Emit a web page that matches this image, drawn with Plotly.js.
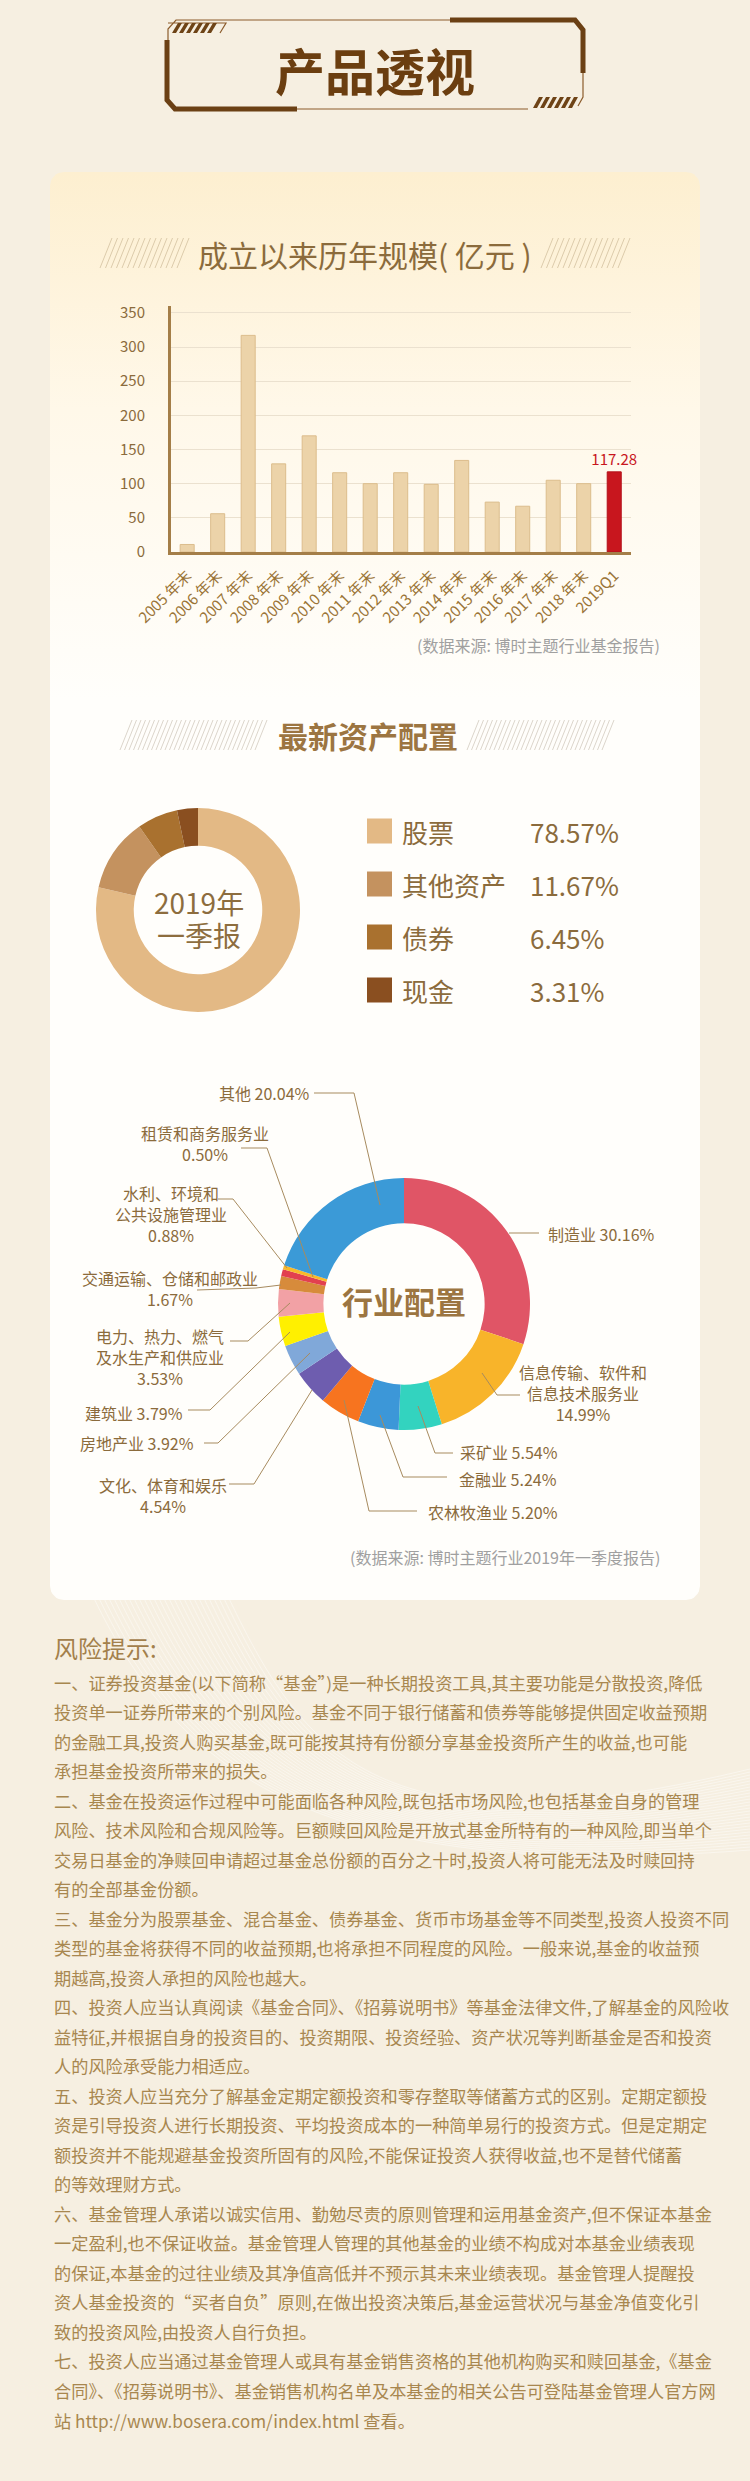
<!DOCTYPE html>
<html><head><meta charset="utf-8">
<script src="https://cdn.plot.ly/plotly-3.0.1.min.js"></script>
<style>html,body{margin:0;padding:0;background:#f6efe1;}#chart{width:750px;height:2481px;}</style>
</head><body><div id="chart"></div>
<script>
const W = 750, H = 2481;

// ---------- DATA ----------
const years = ["2005 年末","2006 年末","2007 年末","2008 年末","2009 年末","2010 年末","2011 年末","2012 年末","2013 年末","2014 年末","2015 年末","2016 年末","2017 年末","2018 年末","2019Q1"];
const fundScale = [11, 56, 317, 129, 170, 116, 100, 116, 99, 134, 73, 67, 105, 100, 117.28];
const yTicks = [0, 50, 100, 150, 200, 250, 300, 350];

const assetLabels = ["股票", "其他资产", "债券", "现金"];
const assetValues = [78.57, 11.67, 6.45, 3.31];

const industryLabels = ["制造业","信息传输、软件和信息技术服务业","采矿业","金融业","农林牧渔业","文化、体育和娱乐","房地产业","建筑业","电力、热力、燃气及水生产和供应业","交通运输、仓储和邮政业","水利、环境和公共设施管理业","租赁和商务服务业","其他"];
const industryValues = [30.16, 14.99, 5.54, 5.24, 5.20, 4.54, 3.92, 3.79, 3.53, 1.67, 0.88, 0.50, 20.04];

const riskTitle = "风险提示:";
const riskLines = [
"一、证券投资基金(以下简称“基金”)是一种长期投资工具,其主要功能是分散投资,降低",
"投资单一证券所带来的个别风险。基金不同于银行储蓄和债券等能够提供固定收益预期",
"的金融工具,投资人购买基金,既可能按其持有份额分享基金投资所产生的收益,也可能",
"承担基金投资所带来的损失。",
"二、基金在投资运作过程中可能面临各种风险,既包括市场风险,也包括基金自身的管理",
"风险、技术风险和合规风险等。巨额赎回风险是开放式基金所特有的一种风险,即当单个",
"交易日基金的净赎回申请超过基金总份额的百分之十时,投资人将可能无法及时赎回持",
"有的全部基金份额。",
"三、基金分为股票基金、混合基金、债券基金、货币市场基金等不同类型,投资人投资不同",
"类型的基金将获得不同的收益预期,也将承担不同程度的风险。一般来说,基金的收益预",
"期越高,投资人承担的风险也越大。",
"四、投资人应当认真阅读《基金合同》、《招募说明书》等基金法律文件,了解基金的风险收",
"益特征,并根据自身的投资目的、投资期限、投资经验、资产状况等判断基金是否和投资",
"人的风险承受能力相适应。",
"五、投资人应当充分了解基金定期定额投资和零存整取等储蓄方式的区别。定期定额投",
"资是引导投资人进行长期投资、平均投资成本的一种简单易行的投资方式。但是定期定",
"额投资并不能规避基金投资所固有的风险,不能保证投资人获得收益,也不是替代储蓄",
"的等效理财方式。",
"六、基金管理人承诺以诚实信用、勤勉尽责的原则管理和运用基金资产,但不保证本基金",
"一定盈利,也不保证收益。基金管理人管理的其他基金的业绩不构成对本基金业绩表现",
"的保证,本基金的过往业绩及其净值高低并不预示其未来业绩表现。基金管理人提醒投",
"资人基金投资的“买者自负”原则,在做出投资决策后,基金运营状况与基金净值变化引",
"致的投资风险,由投资人自行负担。",
"七、投资人应当通过基金管理人或具有基金销售资格的其他机构购买和赎回基金,《基金",
"合同》、《招募说明书》、基金销售机构名单及本基金的相关公告可登陆基金管理人官方网",
"站 http://www.bosera.com/index.html 查看。"
];

// ---------- STYLE / LAYOUT ----------
const FONT = '"Noto Sans CJK SC", "Noto Sans", sans-serif';
const BROWN = '#8b6b3c';
const assetColors = ['#e3b985', '#c4925f', '#a9712f', '#8a4f20'];
const industryColors = ['#e05566','#f8b42a','#33d3bf','#3c97d8','#f7741f','#6e5daf','#80a8d9','#fff000','#f2a1a5','#d78b3b','#e2404f','#f9b92a','#3b9ad7'];
// label layout for industry donut: [breakIndex, valueOnNewLine, x, y, xanchor, leader points]
const indLayout = [
  [0, false, 546, 1234, 'left',   [[509,1233],[539,1233]]],
  [8, true,  583, 1393, 'center', [[482,1373],[497,1395],[520,1395]]],
  [0, false, 458, 1452, 'left',   [[418,1406],[435,1453],[453,1453]]],
  [0, false, 457, 1479, 'left',   [[380,1415],[403,1477],[447,1477]]],
  [0, false, 426, 1512, 'left',   [[344,1400],[369,1511],[417,1511]]],
  [0, true,  163, 1495, 'center', [[312,1390],[254,1484],[229,1484]]],
  [0, false, 196, 1443, 'right',  [[310,1353],[218,1443],[204,1443]]],
  [0, false, 185, 1413, 'right',  [[290,1332],[210,1410],[188,1410]]],
  [8, true,  160, 1357, 'center', [[290,1303],[248,1341],[230,1341]]],
  [0, true,  170, 1288, 'center', [[281,1285],[256,1288],[197,1290]]],
  [6, true,  171, 1214, 'center', [[287,1268],[233,1199],[218,1199]]],
  [0, true,  205, 1143, 'center', [[313,1277],[267,1148],[241,1148]]],
  [0, false, 312, 1093, 'right',  [[380,1205],[354,1093],[314,1093]]]
];

const px = x => x / W;
const py = y => 1 - y / H;

function ann(text, x, y, size, color, o) {
  o = o || {};
  return {text: text, x: px(x), y: py(y), xref: 'paper', yref: 'paper', showarrow: false,
    xanchor: o.xanchor || 'center', yanchor: 'middle', align: o.align || 'center',
    font: {size: size, color: color, family: FONT, weight: o.weight || 400}};
}

function roundRect(x0, y0, x1, y1, r) {
  const xs = [], ys = [];
  const corners = [[x1 - r, y0 + r, -90, 0], [x1 - r, y1 - r, 0, 90], [x0 + r, y1 - r, 90, 180], [x0 + r, y0 + r, 180, 270]];
  corners.forEach(c => {
    for (let k = 0; k <= 8; k++) {
      const a = (c[2] + (c[3] - c[2]) * k / 8) * Math.PI / 180;
      xs.push(c[0] + r * Math.cos(a)); ys.push(c[1] + r * Math.sin(a));
    }
  });
  xs.push(xs[0]); ys.push(ys[0]);
  return [xs, ys];
}

function hatchPath(x0, x1, yTop, yBot, step, slant) {
  let p = '';
  for (let x = x0; x <= x1 - slant; x += step) p += `M${x},${yBot}L${x + slant},${yTop}`;
  return p;
}
function stripes(bx0, yTop, yBot, n) {
  const out = [];
  for (let k = 0; k < n; k++) {
    const bx = bx0 + 7 * k;
    out.push({type: 'path', xref: 'x', yref: 'y', layer: 'above', line: {width: 0},
      fillcolor: '#6e4316', path: `M${bx},${yBot}L${bx + 4},${yBot}L${bx + 10},${yTop}L${bx + 6},${yTop}Z`});
  }
  return out;
}

const shapes = [];
// background swoosh lines
for (let i = 0; i < 28; i++) {
  shapes.push({type: 'path', xref: 'x', yref: 'y', layer: 'below',
    line: {color: 'rgba(255,255,255,0.55)', width: 0.8},
    path: `M${90 + i * 5},1590 C${170 + i * 5},1760 ${300 + i * 3},${1885 - i} 750,${1850 - i * 3}`});
}
// header frame
shapes.push({type: 'path', xref: 'x', yref: 'y', layer: 'above', line: {color: '#8c5c2c', width: 1.2},
  path: 'M450,20L176,20L168,29L168,40M583,73L583,97L578,106M297,109L528,109M168,23L226,23L220,33'});
shapes.push({type: 'path', xref: 'x', yref: 'y', layer: 'above', line: {color: '#6b4014', width: 5},
  path: 'M450,20L575,20L583,30L583,73M167,40L167,100L175,109L297,109'});
stripes(172, 23, 33, 6).forEach(s => shapes.push(s));
stripes(533, 97, 108, 6).forEach(s => shapes.push(s));
// title hatches
shapes.push({type: 'path', xref: 'x', yref: 'y', layer: 'above', line: {color: '#dccbab', width: 1},
  path: hatchPath(100, 192, 238, 268, 5.5, 12) + hatchPath(541, 633, 238, 268, 5.5, 12)});
shapes.push({type: 'path', xref: 'x', yref: 'y', layer: 'above', line: {color: '#dcd6cc', width: 1},
  path: hatchPath(120, 270, 720, 750, 4.5, 12) + hatchPath(467, 616, 720, 750, 4.5, 12)});
// asset legend squares
assetLabels.forEach((l, i) => {
  const cy = 831 + 53 * i;
  shapes.push({type: 'rect', xref: 'paper', yref: 'paper', layer: 'above', line: {width: 0},
    fillcolor: assetColors[i], x0: px(367), x1: px(392), y0: py(cy + 12.5), y1: py(cy - 12.5)});
});
// industry leader lines
indLayout.forEach(L => {
  const pts = L[5];
  shapes.push({type: 'path', xref: 'x', yref: 'y', layer: 'above', line: {color: '#a78b5f', width: 1},
    path: 'M' + pts.map(p => p[0] + ',' + p[1]).join('L')});
});

const annotations = [];
annotations.push(ann('产品透视', 375, 69, 50, '#6b3e10', {weight: 700}));
annotations.push(ann('成立以来历年规模( 亿元 )', 365, 254, 30, '#8b6b3c'));
annotations.push(ann('(数据来源: 博时主题行业基金报告)', 662, 645, 16, '#a0a0a0', {xanchor: 'right'}));
annotations.push(ann('最新资产配置', 368, 735, 30, '#9c7541', {weight: 700}));
annotations.push(ann('2019年', 199, 902, 28, '#8d6d3e'));
annotations.push(ann('一季报', 199, 935, 28, '#8d6d3e'));
assetLabels.forEach((l, i) => {
  const cy = 831 + 53 * i;
  annotations.push(ann(l, 400, cy, 26, BROWN, {xanchor: 'left'}));
  annotations.push(ann(assetValues[i].toFixed(2) + '%', 528, cy, 26, BROWN, {xanchor: 'left'}));
});
annotations.push(ann('行业配置', 404, 1300, 31, '#9c7541', {weight: 700}));
industryLabels.forEach((l, i) => {
  const L = indLayout[i];
  const name = L[0] ? l.slice(0, L[0]) + '<br>' + l.slice(L[0]) : l;
  const val = industryValues[i].toFixed(2) + '%';
  const txt = name + (L[1] ? '<br>' : ' ') + val;
  annotations.push(ann(txt, L[2], L[3], 16, BROWN, {xanchor: L[4], align: L[4] === 'left' ? 'left' : (L[4] === 'right' ? 'right' : 'center')}));
});
annotations.push(ann('(数据来源: 博时主题行业2019年一季度报告)', 662, 1557, 16, '#a0a0a0', {xanchor: 'right'}));
annotations.push(ann(riskTitle, 52, 1648, 24, '#a3804b', {xanchor: 'left'}));
riskLines.forEach((t, i) => {
  annotations.push(ann(t, 52, 1682 + i * 29.52, 17.2, '#a8874f', {xanchor: 'left', align: 'left'}));
});

// ---------- TRACES ----------
const card = roundRect(50, 172, 700, 1600, 14);
const traces = [];
traces.push({type: 'scatter', x: card[0], y: card[1], xaxis: 'x', yaxis: 'y', mode: 'lines',
  line: {width: 0, color: 'rgba(0,0,0,0)'}, fill: 'toself', fillcolor: '#fffcf6',
  fillgradient: {type: 'vertical', start: 172, stop: 700, colorscale: [[0, '#fdefd0'], [0.45, '#fff8e9'], [1, '#fffefb']]},
  hoverinfo: 'skip', showlegend: false});

const last = fundScale.length - 1;
traces.push({type: 'bar', x: years, y: fundScale, xaxis: 'x2', yaxis: 'y2',
  width: 0.46,
  marker: {color: fundScale.map((v, i) => i === last ? '#c8161e' : '#ecd3a9'),
           line: {color: fundScale.map((v, i) => i === last ? '#b3101a' : '#dcbd8c'), width: 1}},
  text: fundScale.map((v, i) => i === last ? v.toFixed(2) : ''),
  textposition: 'outside', constraintext: 'none',
  textfont: {color: '#c8161e', size: 15, family: FONT},
  cliponaxis: false, hoverinfo: 'skip', showlegend: false});

traces.push({type: 'pie', labels: assetLabels, values: assetValues, hole: 0.63, sort: false,
  direction: 'clockwise', rotation: 0, textinfo: 'none', hoverinfo: 'skip',
  marker: {colors: assetColors, line: {width: 0}},
  domain: {x: [px(96), px(300)], y: [py(1012), py(808)]}, showlegend: false});

traces.push({type: 'pie', labels: industryLabels, values: industryValues, hole: 0.64, sort: false,
  direction: 'clockwise', rotation: 0, textinfo: 'none', hoverinfo: 'skip',
  marker: {colors: industryColors, line: {width: 0}},
  domain: {x: [px(278), px(530)], y: [py(1430), py(1178)]}, showlegend: false});

const layout = {
  width: W, height: H, margin: {l: 0, r: 0, t: 0, b: 0, pad: 0},
  paper_bgcolor: '#f6efe1', plot_bgcolor: 'rgba(0,0,0,0)',
  font: {family: FONT, color: BROWN},
  showlegend: false,
  xaxis: {domain: [0, 1], range: [0, W], visible: false, fixedrange: true},
  yaxis: {domain: [0, 1], range: [H, 0], visible: false, fixedrange: true},
  xaxis2: {domain: [px(171), px(631)], anchor: 'y2', type: 'category', range: [-0.53, 14.55],
    tickangle: -45, tickfont: {size: 15, color: '#9a7436', family: FONT},
    showline: true, linecolor: '#a47e48', linewidth: 3, showgrid: false, zeroline: false,
    ticks: 'outside', ticklen: 6, tickcolor: 'rgba(0,0,0,0)', fixedrange: true},
  yaxis2: {domain: [py(552), py(306)], anchor: 'x2', range: [0, 360], tickvals: yTicks,
    showline: true, linecolor: '#a47e48', linewidth: 3, showgrid: true, gridcolor: '#ebe1cf', gridwidth: 1,
    zeroline: false, ticks: 'outside', ticklen: 20, tickcolor: 'rgba(0,0,0,0)',
    tickfont: {size: 15, color: BROWN, family: FONT}, fixedrange: true},
  shapes: shapes,
  annotations: annotations
};

Plotly.newPlot('chart', traces, layout, {staticPlot: true, displayModeBar: false});
</script>
</body></html>
